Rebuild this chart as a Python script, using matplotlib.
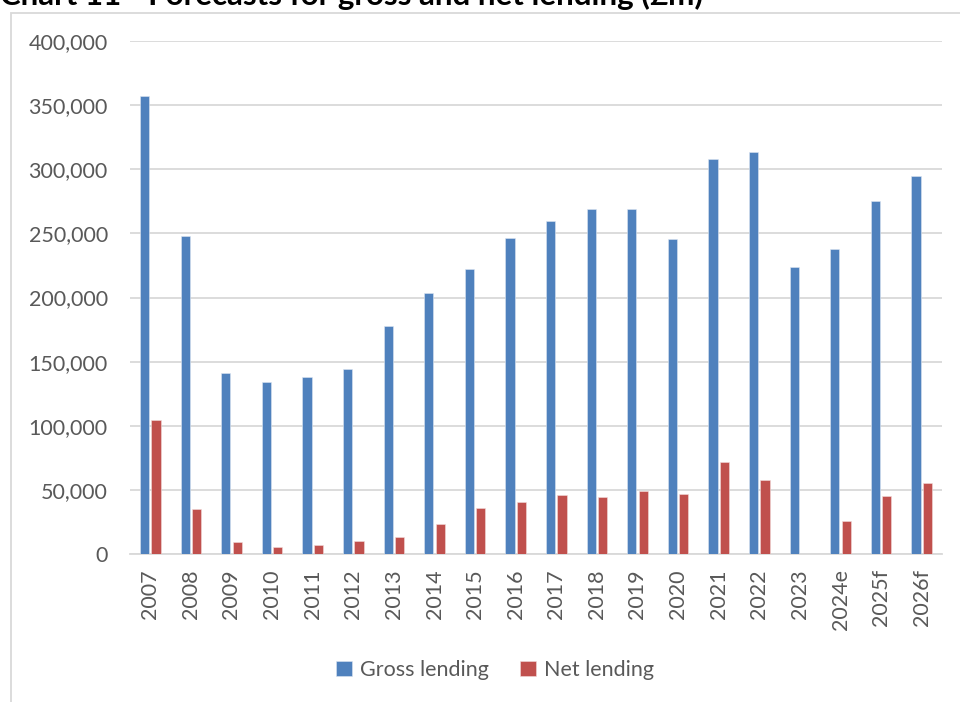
import matplotlib.pyplot as plt
import numpy as np
from matplotlib.patches import Rectangle
from matplotlib.ticker import FuncFormatter

plt.rcParams['font.family'] = ['Lato', 'DejaVu Sans']

years = ['2007', '2008', '2009', '2010', '2011', '2012', '2013', '2014', '2015', '2016',
         '2017', '2018', '2019', '2020', '2021', '2022', '2023', '2024e', '2025f', '2026f']
gross_lending = [357000, 247700, 140800, 134000, 138200, 144400, 177800, 203300, 222000, 246700,
                 259700, 268900, 269100, 246000, 308200, 313400, 223800, 237900, 275100, 295100]
net_lending = [104100, 35100, 9100, 5700, 6800, 10400, 13500, 23400, 35700, 40600,
               45800, 44800, 49400, 46800, 71800, 57800, 0, 26000, 45300, 55200]

fig = plt.figure(figsize=(9.6, 7.02), dpi=100)
ax = fig.add_axes([130 / 960, 1 - 554 / 702, 812 / 960, 513 / 702])

# chart border (Excel chart area)
fig.patches.append(Rectangle((11 / 960, -0.01), 1.0, 1 - 13 / 702 + 0.01, transform=fig.transFigure,
                             fill=False, edgecolor='#d9d9d9', linewidth=1.3))

fig.text(0.0, 1 - 5 / 702, 'Chart 11 - Forecasts for gross and net lending (£m)',
         fontsize=22.5, fontweight='bold', color='black', va='baseline', ha='left')

x = np.arange(len(years))
w = 0.225
ax.bar(x - 0.14, gross_lending, w, color='#4f81bd', edgecolor='#dce6f2', linewidth=0.4,
       label='Gross lending', zorder=3)
ax.bar(x + 0.14, net_lending, w, color='#c0504d', edgecolor='#f2dcdb', linewidth=0.4,
       label='Net lending', zorder=3)

ax.set_xlim(-0.5, len(years) - 0.5)
ax.set_ylim(0, 400000)
ax.set_yticks(range(0, 400001, 50000))
ax.yaxis.set_major_formatter(FuncFormatter(lambda v, p: f'{int(v):,}'))
ax.set_xticks(x)
ax.set_xticklabels(years, rotation=90)
ax.grid(axis='y', color='#d9d9d9', linewidth=1.3, zorder=0)
for s in ['top', 'right', 'left']:
    ax.spines[s].set_visible(False)
ax.spines['bottom'].set_color('#d9d9d9')
ax.spines['bottom'].set_linewidth(1.3)
ax.tick_params(axis='both', length=0, labelsize=15.5, labelcolor='#595959')
ax.tick_params(axis='y', pad=16)
ax.tick_params(axis='x', pad=11)

leg = fig.legend(loc='center', bbox_to_anchor=(495 / 960, 1 - 670 / 702), ncol=2, frameon=False,
                 fontsize=15.5, handlelength=0.75, handleheight=0.75, handletextpad=0.4,
                 columnspacing=1.4)
for t in leg.get_texts():
    t.set_color('#595959')

fig.savefig('out.png', dpi=100)
